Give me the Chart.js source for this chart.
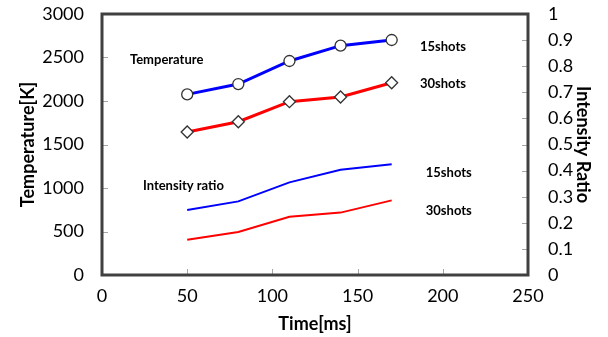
<!DOCTYPE html>
<html>
<head>
<meta charset="utf-8">
<script src="https://cdn.jsdelivr.net/npm/chart.js@4.4.1/dist/chart.umd.min.js"></script>
<style>
  html, body { margin: 0; padding: 0; background: #fff; }
  #wrap { width: 608px; height: 337px; position: relative; }
</style>
</head>
<body>
<div id="wrap"><canvas id="tempChart"></canvas></div>
<script>
const times = [50, 80, 110, 140, 170];
const temp15 = [2076, 2195, 2460, 2636, 2701];
const temp30 = [1644, 1762, 1992, 2046, 2210];
const ratio15 = [0.249, 0.282, 0.355, 0.403, 0.424];
const ratio30 = [0.135, 0.165, 0.223, 0.239, 0.286];

const xTicks = [0, 50, 100, 150, 200, 250];
const tempTicks = [0, 500, 1000, 1500, 2000, 2500, 3000];
const ratioTicks = [0, 0.1, 0.2, 0.3, 0.4, 0.5, 0.6, 0.7, 0.8, 0.9, 1];

// in-plot labels, placed in data units (time, temperature)
const noteTexts = ["Temperature", "15shots", "30shots", "Intensity ratio", "15shots", "30shots"];
const noteTimes = [16.4, 186.6, 186.6, 24, 190, 190];
const noteTemps = [2475, 2624, 2198, 1026, 1176, 739];

const FONT = "Lato, 'Open Sans', sans-serif";

function points(values) {
  return times.map((t, i) => ({ x: t, y: values[i] }));
}

const plain = (v) => String(v);

function fitSide(width) {
  return (scale) => {
    scale.width = width;
    scale.paddingTop = 0;
    scale.paddingBottom = 0;
  };
}

const frameAndTicks = {
  id: "frameAndTicks",
  afterDatasetsDraw(chart) {
    const { ctx, chartArea } = chart;
    const { x, y, y1 } = chart.scales;
    ctx.save();
    ctx.strokeStyle = "#a6a6a6";
    ctx.lineWidth = 1;
    ctx.beginPath();
    xTicks.slice(1, -1).forEach((v) => {
      const px = Math.round(x.getPixelForValue(v)) + 0.5;
      ctx.moveTo(px, chartArea.bottom);
      ctx.lineTo(px, chartArea.bottom - 6);
    });
    tempTicks.slice(1, -1).forEach((v) => {
      const py = Math.round(y.getPixelForValue(v)) + 0.5;
      ctx.moveTo(chartArea.left, py);
      ctx.lineTo(chartArea.left + 6, py);
    });
    ratioTicks.slice(1, -1).forEach((v) => {
      const py = Math.round(y1.getPixelForValue(v)) + 0.5;
      ctx.moveTo(chartArea.right, py);
      ctx.lineTo(chartArea.right - 6, py);
    });
    ctx.stroke();

    ctx.strokeStyle = "#404040";
    ctx.lineWidth = 3;
    ctx.strokeRect(chartArea.left, chartArea.top, chartArea.right - chartArea.left, chartArea.bottom - chartArea.top);

    ctx.fillStyle = "#000";
    ctx.font = "bold 13px " + FONT;
    ctx.textAlign = "left";
    ctx.textBaseline = "middle";
    noteTexts.forEach((txt, i) => {
      ctx.fillText(txt, x.getPixelForValue(noteTimes[i]), y.getPixelForValue(noteTemps[i]));
    });
    ctx.restore();
  },
};

const markerStyle = {
  pointBackgroundColor: "#ffffff",
  pointBorderColor: "#333333",
  pointBorderWidth: 1.3,
  pointRadius: 5.5,
};

new Chart(document.getElementById("tempChart"), {
  type: "line",
  data: {
    datasets: [
      { label: "Temperature 15shots", data: points(temp15), borderColor: "#0000ff", borderWidth: 3, pointStyle: "circle", yAxisID: "y", ...markerStyle },
      { label: "Temperature 30shots", data: points(temp30), borderColor: "#ff0000", borderWidth: 3, pointStyle: "rectRot", yAxisID: "y", ...markerStyle, pointRadius: 6 },
      { label: "Intensity ratio 15shots", data: points(ratio15), borderColor: "#0000ff", borderWidth: 2, pointRadius: 0, yAxisID: "y1" },
      { label: "Intensity ratio 30shots", data: points(ratio30), borderColor: "#ff0000", borderWidth: 2, pointRadius: 0, yAxisID: "y1" },
    ],
  },
  options: {
    responsive: true,
    maintainAspectRatio: false,
    animation: false,
    layout: { padding: { top: 14, left: 0, right: 0, bottom: 0 } },
    plugins: { legend: { display: false }, tooltip: { enabled: false } },
    scales: {
      x: {
        type: "linear",
        min: 0,
        max: 250,
        afterFit(scale) { scale.height = 62; scale.paddingLeft = 0; scale.paddingRight = 0; },
        afterBuildTicks(scale) { scale.ticks = xTicks.map((v) => ({ value: v })); },
        grid: { display: false },
        border: { display: false },
        ticks: { color: "#000", font: { family: FONT, size: 18 }, padding: 2, maxRotation: 0, callback: plain },
        title: { display: true, text: "Time[ms]", color: "#000", font: { family: FONT, size: 18, weight: "bold" }, padding: { top: 0, bottom: 2 } },
      },
      y: {
        position: "left",
        min: 0,
        max: 3000,
        afterFit: fitSide(102),
        afterBuildTicks(scale) { scale.ticks = tempTicks.map((v) => ({ value: v })); },
        grid: { display: false },
        border: { display: false },
        ticks: { color: "#000", font: { family: FONT, size: 18 }, padding: 10, callback: plain },
        title: { display: true, text: "Temperature[K]", color: "#000", font: { family: FONT, size: 18, weight: "bold" }, padding: { top: 17, bottom: 0 } },
      },
      y1: {
        position: "right",
        min: 0,
        max: 1,
        afterFit: fitSide(80),
        afterBuildTicks(scale) { scale.ticks = ratioTicks.map((v) => ({ value: v })); },
        grid: { display: false },
        border: { display: false },
        ticks: { color: "#000", font: { family: FONT, size: 18 }, padding: 12, callback: plain },
        title: { display: true, text: "Intensity Ratio", color: "#000", font: { family: FONT, size: 18, weight: "bold" }, padding: { top: 14, bottom: 0 } },
      },
    },
  },
  plugins: [frameAndTicks],
});
</script>
</body>
</html>
